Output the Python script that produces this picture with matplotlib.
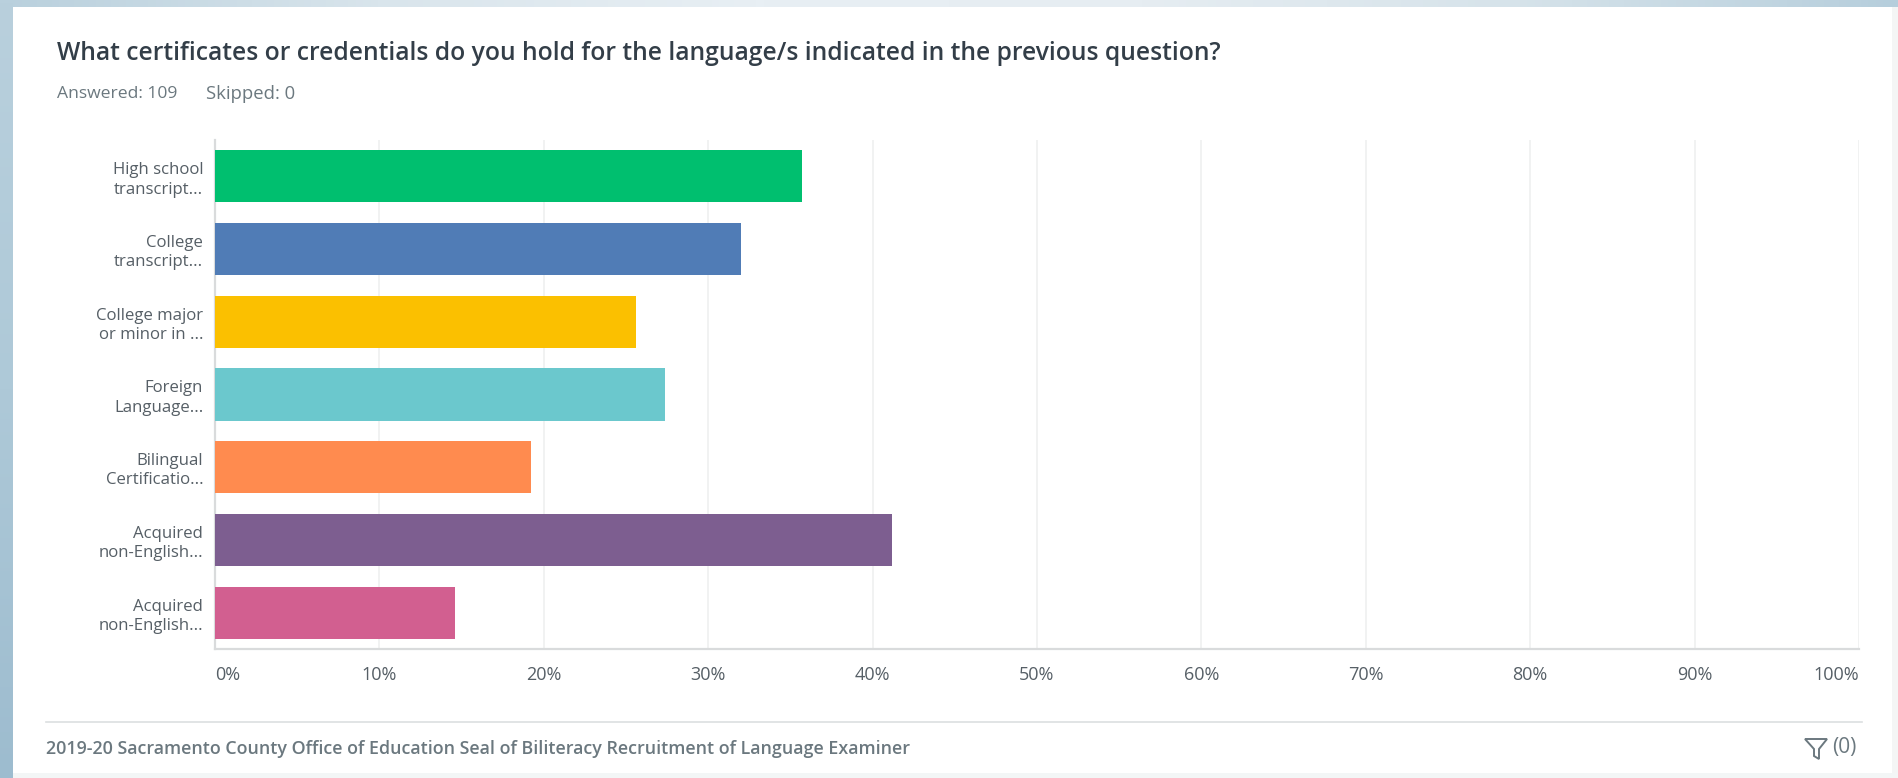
import numpy as np
import matplotlib
matplotlib.use("Agg")
import matplotlib.pyplot as plt
from matplotlib.colors import LinearSegmentedColormap
from matplotlib.patches import Rectangle, Polygon

W, H = 1898, 778

title = "What certificates or credentials do you hold for the language/s indicated in the previous question?"
answered = "Answered: 109"
skipped = "Skipped: 0"
footer = "2019-20 Sacramento County Office of Education Seal of Biliteracy Recruitment of Language Examiner"
filter_label = "(0)"

categories = [
    "High school\ntranscript...",
    "College\ntranscript...",
    "College major\nor minor in ...",
    "Foreign\nLanguage...",
    "Bilingual\nCertificatio...",
    "Acquired\nnon-English...",
    "Acquired\nnon-English...",
]
percentages = [35.7, 32.0, 25.6, 27.4, 19.2, 41.2, 14.6]
bar_colors = ["#00bf6f", "#507cb6", "#fbc000", "#6bc8cd", "#ff8b4f", "#7d5e90", "#d25f90"]
ticks = list(range(0, 101, 10))
tick_labels = [f"{t}%" for t in ticks]

FONT = "Open Sans"
TEXT_DARK = "#333e48"
TEXT_MID = "#6b787f"
TEXT_AXIS = "#565f66"

fig = plt.figure(figsize=(W / 100, H / 100), dpi=100, facecolor="white")

# Full-figure layer in pixel coordinates for the page backdrop and card
page = fig.add_axes([0, 0, 1, 1], zorder=0)
page.set_xlim(0, W)
page.set_ylim(H, 0)
page.axis("off")

top_cmap = LinearSegmentedColormap.from_list(
    "top", ["#b9d0dd", "#d9e5ec", "#e8eff4", "#e6edf2", "#d6e3ea", "#b6cedc"])
left_cmap = LinearSegmentedColormap.from_list("left", ["#b9d0dd", "#aec9d8", "#9dbccf"])
page.imshow(np.linspace(0, 1, 256)[None, :], cmap=top_cmap, extent=(0, W, 7, 0),
            aspect="auto", zorder=1)
page.imshow(np.linspace(0, 1, 256)[:, None], cmap=left_cmap, extent=(0, 13, H, 0),
            aspect="auto", zorder=1)
page.set_xlim(0, W)
page.set_ylim(H, 0)
page.add_patch(Rectangle((1892, 7), 6, H - 7, color="#f4f5f5", lw=0, zorder=2))
page.add_patch(Rectangle((13, 773), W - 13, 5, color="#f3f6f6", lw=0, zorder=2))
page.add_patch(Rectangle((13, 7), 1879, 766, color="white", lw=0, zorder=2))

# Header text
page.text(57, 53, title, fontsize=17.7, fontweight="semibold", family=FONT,
          color=TEXT_DARK, va="center", ha="left", zorder=3)
page.text(57, 94, answered, fontsize=12.6, family=FONT, color=TEXT_MID,
          va="center", ha="left", zorder=3)
page.text(206, 94, skipped, fontsize=13.3, family=FONT, color=TEXT_MID,
          va="center", ha="left", zorder=3)

# Footer rule, survey name and filter indicator
page.plot([46, 1862], [722, 722], color="#dcdfe0", lw=1.2, zorder=3)
page.text(46, 749, footer, fontsize=12.85, fontweight="semibold", family=FONT,
          color=TEXT_MID, va="center", ha="left", zorder=3)
page.add_patch(Polygon([(1805, 739), (1827, 739), (1819, 749), (1819, 759), (1814, 756), (1814, 749)],
                       closed=True, fill=False, edgecolor="#6b787f", lw=1.4, zorder=3))
page.text(1832, 748, filter_label, fontsize=15, family=FONT, color=TEXT_MID,
          va="center", ha="left", zorder=3)

# Bar chart
x0, x1, y0, y1 = 215, 1859, 140, 649
ax = fig.add_axes([x0 / W, 1 - y1 / H, (x1 - x0) / W, (y1 - y0) / H], zorder=1)
ax.patch.set_alpha(0)
y = np.arange(len(categories))
ax.barh(y, percentages, height=0.716, color=bar_colors, linewidth=0, zorder=3)
ax.set_xlim(0, 100)
ax.set_ylim(len(categories) - 0.5, -0.5)
ax.set_xticks(ticks)
ax.set_xticklabels(tick_labels, fontsize=13, family=FONT, color=TEXT_AXIS)
ax.set_yticks(y)
ax.set_yticklabels(categories, fontsize=12.1, family=FONT, color=TEXT_AXIS,
                   linespacing=1.27, ha="right")
ax.tick_params(axis="both", length=0)
ax.tick_params(axis="x", pad=12)
ax.tick_params(axis="y", pad=8.5)
ax.grid(axis="x", color="#f1f2f2", lw=1.4, zorder=0)
ax.set_axisbelow(True)
for side in ("top", "right"):
    ax.spines[side].set_visible(False)
for side in ("left", "bottom"):
    ax.spines[side].set_color("#d9dbdc")
    ax.spines[side].set_linewidth(1.6)

# The first and last tick labels stay inside the plot span
labels = ax.get_xticklabels()
labels[0].set_ha("left")
labels[-1].set_ha("right")

fig.savefig("out.png", dpi=100)
